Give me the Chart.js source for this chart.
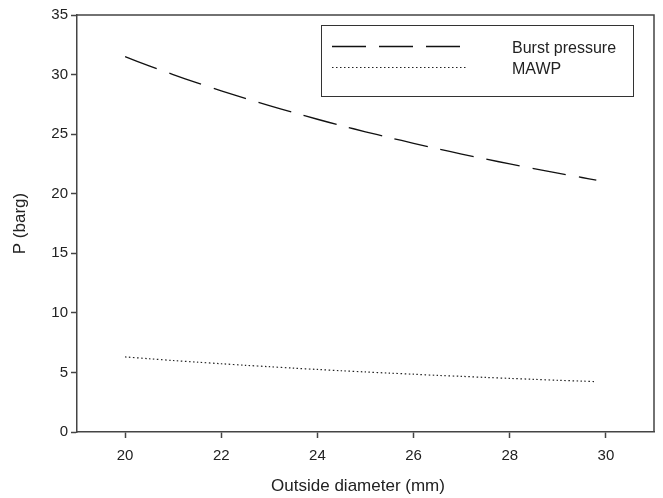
<!DOCTYPE html>
<html>
<head>
<meta charset="utf-8">
<script src="https://cdn.jsdelivr.net/npm/chart.js@4.4.1/dist/chart.umd.min.js"></script>
<style>
  html, body { margin: 0; padding: 0; background: #fff; }
  #wrap { width: 663px; height: 498px; }
</style>
</head>
<body>
<div id="wrap"><canvas id="chart"></canvas></div>
<script>
// Outside diameter (mm)
const diameters = [20, 20.5, 21, 21.5, 22, 22.5, 23, 23.5, 24, 24.5, 25, 25.5, 26, 26.5, 27, 27.5, 28, 28.5, 29, 29.5, 29.8];
// Burst pressure (barg)
const burstPressure = [31.5, 30.73, 30.0, 29.3, 28.64, 28.0, 27.39, 26.81, 26.25, 25.71, 25.2, 24.71, 24.23, 23.77, 23.33, 22.91, 22.5, 22.11, 21.72, 21.36, 21.14];
// Maximum allowable working pressure (barg)
const mawp = [6.3, 6.15, 6.0, 5.86, 5.73, 5.6, 5.48, 5.36, 5.25, 5.14, 5.04, 4.94, 4.85, 4.75, 4.67, 4.58, 4.5, 4.42, 4.34, 4.27, 4.23];

const xTicks = [20, 22, 24, 26, 28, 30];
const yTicks = [0, 5, 10, 15, 20, 25, 30, 35];

const axisColor = '#444';
const textColor = '#222';
const fontFamily = "'Liberation Sans', Arial, sans-serif";

function points(ys) {
    return diameters.map((d, i) => ({ x: d, y: ys[i] }));
}

// Box round the plot area, the x axis title and the boxed legend
const frameAndLegend = {
    id: 'frameAndLegend',
    afterDraw(chart) {
        const ctx = chart.ctx;
        const a = chart.chartArea;
        ctx.save();
        ctx.strokeStyle = axisColor;
        ctx.lineWidth = 1.5;
        ctx.beginPath();
        ctx.moveTo(a.left, a.top);
        ctx.lineTo(a.right, a.top);
        ctx.lineTo(a.right, a.bottom);
        ctx.stroke();

        ctx.fillStyle = textColor;
        ctx.textAlign = 'center';
        ctx.textBaseline = 'middle';
        ctx.font = '17px ' + fontFamily;
        ctx.fillText('Outside diameter (mm)', 358, 486);

        // legend
        ctx.textAlign = 'left';
        ctx.strokeStyle = '#333';
        ctx.lineWidth = 1;
        ctx.strokeRect(321.5, 25.5, 312, 71);
        const rows = [{ y: 46, ds: chart.data.datasets[0] }, { y: 67, ds: chart.data.datasets[1] }];
        ctx.font = '16px ' + fontFamily;
        rows.forEach(r => {
            ctx.strokeStyle = r.ds.borderColor;
            ctx.lineWidth = r.ds.borderWidth;
            ctx.setLineDash(r.ds.borderDash);
            ctx.beginPath();
            ctx.moveTo(332, r.y + 0.5);
            ctx.lineTo(468, r.y + 0.5);
            ctx.stroke();
            ctx.setLineDash([]);
            ctx.fillText(r.ds.label, 512, r.y + 3);
        });
        ctx.restore();
    }
};

new Chart(document.getElementById('chart'), {
    type: 'line',
    data: {
        datasets: [
            {
                label: 'Burst pressure',
                data: points(burstPressure),
                borderColor: '#111',
                borderWidth: 1.3,
                borderDash: [34, 13],
                pointRadius: 0,
                tension: 0.3,
                fill: false
            },
            {
                label: 'MAWP',
                data: points(mawp),
                borderColor: '#222',
                borderWidth: 1.2,
                borderDash: [1.5, 2.5],
                pointRadius: 0,
                tension: 0.3,
                fill: false
            }
        ]
    },
    options: {
        responsive: true,
        maintainAspectRatio: false,
        animation: false,
        layout: { padding: { top: 15, right: 9, bottom: 0, left: 0 } },
        plugins: {
            legend: { display: false },
            tooltip: { enabled: false }
        },
        scales: {
            x: {
                type: 'linear',
                min: 19,
                max: 31,
                afterBuildTicks: scale => { scale.ticks = xTicks.map(v => ({ value: v })); },
                afterFit: scale => { scale.height = 66; },
                grid: { drawOnChartArea: false, drawTicks: true, tickLength: 6, tickWidth: 1.5, color: axisColor },
                border: { display: true, color: axisColor, width: 1.5 },
                ticks: { color: textColor, font: { family: fontFamily, size: 15 }, padding: 9, maxRotation: 0 },
                title: { display: false }
            },
            y: {
                min: 0,
                max: 35,
                afterBuildTicks: scale => { scale.ticks = yTicks.map(v => ({ value: v })); },
                afterFit: scale => { scale.width = 77; },
                grid: { drawOnChartArea: false, drawTicks: true, tickLength: 6, tickWidth: 1.5, color: axisColor },
                border: { display: true, color: axisColor, width: 1.5 },
                ticks: { color: textColor, font: { family: fontFamily, size: 15 }, padding: 3 },
                title: {
                    display: true,
                    text: 'P (barg)',
                    color: textColor,
                    font: { family: fontFamily, size: 17 },
                    padding: { top: 10, bottom: 0 }
                }
            }
        }
    },
    plugins: [frameAndLegend]
});
</script>
</body>
</html>
